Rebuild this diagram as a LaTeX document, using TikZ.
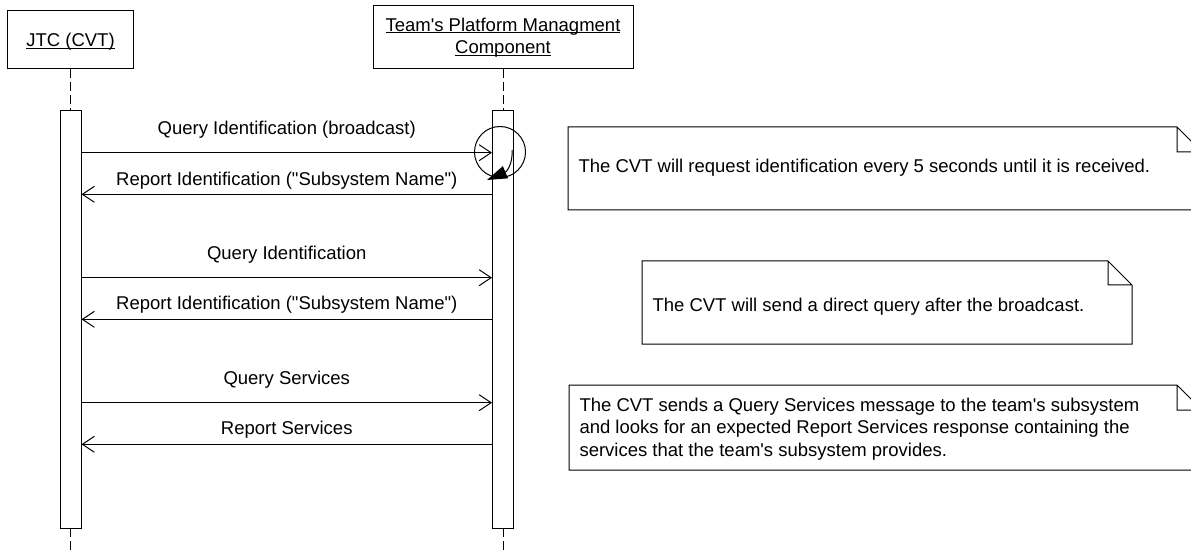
\documentclass[tikz,border=0pt]{standalone}
\usepackage{fontspec}
\setmainfont{Liberation Sans}
\usetikzlibrary{arrows.meta}
\newcommand\ulin[1]{\setbox0\hbox{#1}\rlap{\rule[-2.3pt]{\wd0}{0.9pt}}\box0}

\begin{document}
\begin{tikzpicture}[x=1pt,y=-1pt,line width=1pt,font=\fontsize{18.5}{22.4}\selectfont]
    \tikzstyle{head}=[rectangle,draw,inner sep=0pt,align=center]
    \tikzstyle{bar}=[rectangle,draw,fill=white,inner sep=0pt,minimum width=21pt,minimum height=417pt]
    \tikzstyle{life}=[dash pattern=on 9pt off 4pt]
    \tikzstyle{msg}=[-{Straight Barb[length=12pt,width=16pt]}]
    \tikzstyle{lbl}=[anchor=base,inner sep=0pt]
    \tikzstyle{txt}=[inner sep=0pt,align=left]
    \useasboundingbox (0,0) rectangle (1191,553);
    \clip (0,0) rectangle (1191,553);

    % lifelines
    \node[head,minimum width=126pt,minimum height=58pt,text height=13.3pt,text depth=0pt] (jtc) at (70.5,40) {\ulin{JTC (CVT)}};
    \node[head,minimum width=260pt,minimum height=63pt] (tpm) at (503,37.5)
        {\ulin{Team\textquotesingle s Platform Managment}\\\ulin{Component}};
    \coordinate (bot) at (0,553);
    \draw[life] (jtc.south) -- (70.5,111) (70.5,528) -- (70.5,553);
    \draw[life] (tpm.south) -- (503,111) (503,528) -- (503,553);
    \node[bar] (jtcbar) at (70.5,319.5) {};
    \node[bar] (tpmbar) at (503,319.5) {};

    % messages
    \coordinate (m1) at (0,152.7);
    \coordinate (m2) at (0,194.3);
    \coordinate (m3) at (0,277.7);
    \coordinate (m4) at (0,319.3);
    \coordinate (m5) at (0,402.7);
    \coordinate (m6) at (0,444.3);
    \draw[msg] (jtcbar.east |- m1) -- node[lbl,yshift=18pt] {Query Identification (broadcast)} (tpmbar.west |- m1);
    \draw[msg] (tpmbar.west |- m2) -- node[lbl,yshift=9pt] {Report Identification (\textquotedbl Subsystem Name\textquotedbl)} (jtcbar.east |- m2);
    \draw[msg] (jtcbar.east |- m3) -- node[lbl,yshift=18pt] {Query Identification} (tpmbar.west |- m3);
    \draw[msg] (tpmbar.west |- m4) -- node[lbl,yshift=10pt] {Report Identification (\textquotedbl Subsystem Name\textquotedbl)} (jtcbar.east |- m4);
    \draw[msg] (jtcbar.east |- m5) -- node[lbl,yshift=18.5pt] {Query Services} (tpmbar.west |- m5);
    \draw[msg] (tpmbar.west |- m6) -- node[lbl,yshift=10pt] {Report Services} (jtcbar.east |- m6);

    % repeat loop
    \node[circle,draw,minimum size=51pt,inner sep=0pt] (loop) at (500,152) {};
    \coordinate (loopa) at (512,150);
    \coordinate (loopb) at (487,180);
    \draw[-{Triangle[length=20pt,width=13pt]}] (loopa) .. controls (513,165) and (506,172) .. (loopb);

    % notes
    \foreach \l/\t/\r/\b/\f in {568/127/1202/210/25, 642/261/1132/344/24, 569/385/1202/470/25}
        \draw (\l,\t) -- (\r-\f,\t) -- (\r,\t+\f) -- (\r,\b) -- (\l,\b) -- cycle
              (\r-\f,\t) -- (\r-\f,\t+\f) -- (\r,\t+\f);
    \node[txt,anchor=base west] (note1) at (578,173) {The CVT will request identification every 5 seconds until it is received.};
    \node[txt,anchor=base west] (note2) at (652,311) {The CVT will send a direct query after the broadcast.};
    \node[txt,anchor=west] (note3) at (579,429) {The CVT sends a Query Services message to the team\textquotesingle s subsystem\\
        and looks for an expected Report Services response containing the\\
        services that the team\textquotesingle s subsystem provides.};

\end{tikzpicture}
\end{document}
